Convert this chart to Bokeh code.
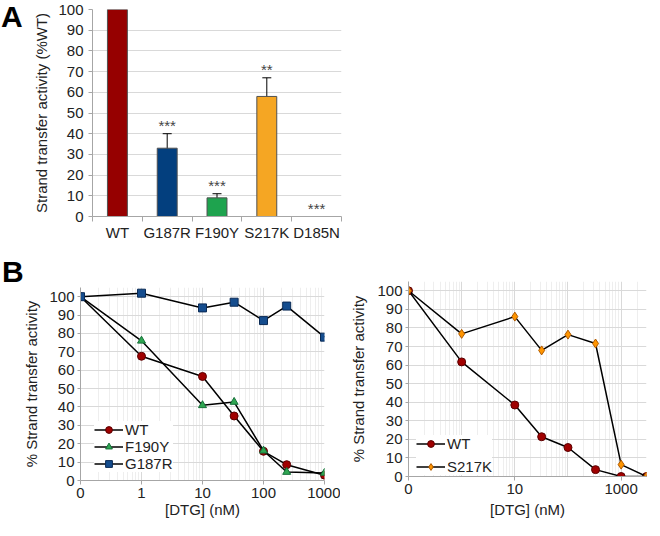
from bokeh.plotting import figure
from bokeh.models import (ColumnDataSource, FixedTicker, Whisker, TeeHead, Range1d, Div)
from bokeh.layouts import column, row
from bokeh.embed import file_html
from bokeh.resources import INLINE
from bokeh.core.properties import value

FONT = "Liberation Sans"
TXT = "#222222"
AXC = "#a6a6a6"
GRID = "#d9d9d9"
MINOR = "#eeeeee"

# ---------------- Panel A data ----------------
mutants = ["WT", "G187R", "F190Y", "S217K", "D185N"]
activity = [100, 33, 9, 58, 0]
err_low = [None, 26, 7, 49, None]
err_high = [None, 40, 11, 67, None]
signif = ["", "***", "***", "**", "***"]
bar_colors = ["#960000", "#033f7e", "#1ea34e", "#f5a623", "#f5a623"]
a_ticks = [0, 10, 20, 30, 40, 50, 60, 70, 80, 90, 100]

# ---------------- Panel B (left) data ----------------
conc_left = [0, 1, 10, 33, 100, 240, 1000]
wt_left = [100, 67.6, 56.6, 35.1, 15.9, 8.6, 2.9]
f190y_left = [100, 76.0, 40.9, 42.7, 16.2, 4.6, 4.1]
g187r_left = [100, 101.9, 93.9, 97.0, 87.0, 94.9, 78.0]
left_ticks = [0.1, 1, 10, 100, 1000]
left_labels = ["0", "1", "10", "100", "1000"]

# ---------------- Panel B (right) data ----------------
conc_right = [0, 1, 10, 32, 100, 330, 1000, 3000]
wt_right = [100, 61.7, 38.5, 21.4, 15.6, 3.7, 0, 0]
s217k_right = [100, 76.8, 86.1, 67.9, 76.4, 71.6, 6.4, 0]
right_ticks = [0.1, 10, 1000]
right_labels = ["0", "10", "1000"]
b_ticks = [0, 10, 20, 30, 40, 50, 60, 70, 80, 90, 100]
decades = [0.1, 1, 10, 100, 1000]


def style_axes(p, size="15px"):
    for ax in (p.xaxis[0], p.yaxis[0]):
        ax.axis_line_color = AXC
        ax.major_tick_line_color = AXC
        ax.minor_tick_line_color = None
        ax.major_tick_in = 0
        ax.major_label_text_font = FONT
        ax.major_label_text_font_size = size
        ax.major_label_text_color = TXT
        ax.axis_label_text_font = FONT
        ax.axis_label_text_font_size = "15px"
        ax.axis_label_text_font_style = "normal"
        ax.axis_label_text_color = TXT
    p.outline_line_color = None


def letter_div(letter, width, height, line_h, indent):
    return Div(text=letter, width=width, height=height,
               styles={"font-family": FONT, "font-size": "30px", "font-weight": "bold",
                       "line-height": line_h, "color": "black", "text-indent": indent,
                       "margin": "0", "padding": "0"})


# ================= Panel A =================
xs = list(range(1, len(mutants) + 1))
pA = figure(width=321, height=243, x_range=Range1d(0.5, len(mutants) + 0.5),
            y_range=Range1d(0, 100), output_backend="svg", toolbar_location=None,
            min_border_left=60, min_border_right=10, min_border_top=9, min_border_bottom=27)
style_axes(pA)
pA.vbar(x=xs, top=activity, width=0.4, fill_color=bar_colors, line_color="#505050", line_width=1)

wx = [x for x, lo in zip(xs, err_low) if lo is not None]
wl = [lo for lo in err_low if lo is not None]
wh = [hi for hi in err_high if hi is not None]
wsrc = ColumnDataSource(data=dict(x=wx, lower=wl, upper=wh))
pA.add_layout(Whisker(source=wsrc, base="x", lower="lower", upper="upper",
                      line_color="black", line_width=1,
                      upper_head=TeeHead(size=9, line_color="black", line_width=1),
                      lower_head=TeeHead(size=9, line_color="black", line_width=1)))

star_y = [(hi if hi is not None else v) + 4 for hi, v in zip(err_high, activity)]
pA.text(x=xs, y=star_y, text=signif, text_align="center", text_baseline="middle",
        text_font=value(FONT), text_font_size="15px", text_color="#444444")

pA.xaxis.ticker = FixedTicker(ticks=xs, minor_ticks=[x - 0.5 for x in xs] + [xs[-1] + 0.5])
pA.xaxis.major_label_overrides = {x: m for x, m in zip(xs, mutants)}
pA.xaxis.major_tick_line_color = None
pA.xaxis.major_tick_out = 0
pA.xaxis.minor_tick_line_color = AXC
pA.xaxis.minor_tick_out = 5
pA.xaxis.minor_tick_in = 0
pA.xaxis.major_label_standoff = 2
pA.xgrid.grid_line_color = None

pA.yaxis.ticker = FixedTicker(ticks=a_ticks)
pA.yaxis.major_tick_out = 4
pA.yaxis.major_label_standoff = 5
pA.yaxis.axis_label = "Strand transfer activity (%WT)"
pA.yaxis.axis_label_standoff = 5
pA.ygrid.grid_line_color = GRID


def decade_minors(lo_exp, hi_val):
    out = []
    e = lo_exp
    while 10 ** e < hi_val:
        for k in range(2, 10):
            v = k * 10 ** e
            if v < hi_val:
                out.append(v)
        e += 1
    return out


def log_panel(width, height, mb_left, mb_right, mb_top, mb_bottom, x_end, ticks, labels):
    p = figure(width=width, height=height, x_axis_type="log", x_range=Range1d(0.1, x_end),
               y_range=Range1d(0, 105), output_backend="svg", toolbar_location=None,
               min_border_left=mb_left, min_border_right=mb_right,
               min_border_top=mb_top, min_border_bottom=mb_bottom)
    style_axes(p)
    p.xaxis.ticker = FixedTicker(ticks=ticks)
    p.xaxis.major_label_overrides = {t: l for t, l in zip(ticks, labels)}
    p.xaxis.major_tick_out = 4
    p.xaxis.axis_label = "[DTG] (nM)"
    p.xgrid.ticker = FixedTicker(ticks=decades, minor_ticks=decade_minors(-1, x_end))
    p.xgrid.grid_line_color = GRID
    p.xgrid.minor_grid_line_color = MINOR
    p.yaxis.ticker = FixedTicker(ticks=b_ticks)
    p.yaxis.major_tick_out = 3
    p.yaxis.major_label_standoff = 3
    p.yaxis.axis_label = "% Strand transfer activity"
    p.ygrid.grid_line_color = GRID
    return p


def series(p, conc, vals, label, marker, fill, edge, size):
    xplot = [c if c > 0 else 0.1 for c in conc]
    p.line(xplot, vals, line_color="black", line_width=1.5, legend_label=label)
    p.scatter(xplot, vals, marker=marker, size=size, fill_color=fill, line_color=edge,
              line_width=1, legend_label=label)


def style_legend(p, loc, spacing, row_h):
    lg = p.legend[0]
    lg.location = loc
    lg.border_line_color = None
    lg.background_fill_color = "white"
    lg.background_fill_alpha = 1
    lg.padding = 0
    lg.margin = 0
    lg.spacing = spacing
    lg.label_height = row_h
    lg.glyph_height = row_h
    lg.glyph_width = 29
    lg.label_standoff = 2
    lg.label_text_font = FONT
    lg.label_text_font_size = "15px"
    lg.label_text_color = TXT


# ================= Panel B left =================
pL = log_panel(340, 237, 80, 16, 4, 36, 1000, left_ticks, left_labels)
pL.xaxis.major_label_standoff = 3
pL.xaxis.axis_label_standoff = 0
pL.yaxis.axis_label_standoff = 6
series(pL, conc_left, wt_left, "WT", "circle", "#a00000", "#5a0000", 8)
series(pL, conc_left, f190y_left, "F190Y", "triangle", "#2ea651", "#17703a", 8)
series(pL, conc_left, g187r_left, "G187R", "square", "#154d8e", "#0a2a55", 8)
style_legend(pL, (14, 8), 0, 17)

# ================= Panel B right =================
pR = log_panel(312, 277, 68, 6, 38, 41, 3000, right_ticks, right_labels)
pR.xaxis.major_label_standoff = 3
pR.xaxis.axis_label_standoff = 4
pR.yaxis.axis_label_standoff = 7
series(pR, conc_right, wt_right, "WT", "circle", "#a00000", "#5a0000", 8)
series(pR, conc_right, s217k_right, "S217K", "diamond", "#ff9500", "#b05a00", 9)
style_legend(pR, (8, 1), 6, 17)

layout = column(
    row(letter_div("A", 30, 243, "34px", "1px"), pA),
    row(column(letter_div("B", 340, 40, "57px", "2px"), pL), pR),
)
open("out.html", "w").write(file_html(layout, INLINE))
